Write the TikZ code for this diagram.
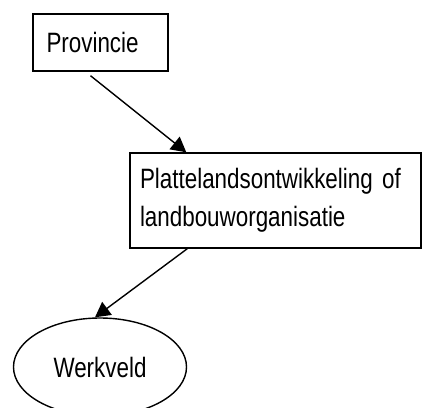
\documentclass[tikz,border=0pt]{standalone}
\usepackage{fontspec}
\setmainfont[FakeStretch=0.8]{Liberation Sans}
\usetikzlibrary{arrows.meta,shapes}

\begin{document}
\begin{tikzpicture}[x=1pt,y=-1pt,
    every node/.style={font=\fontsize{28}{38}\selectfont},
    box/.style={draw,line width=1.4pt,rectangle,align=left},
    pijl/.style={line width=1.4pt,-{Triangle[length=15pt,width=16pt]}}]
\useasboundingbox (0,0) rectangle (423,407);
\node [box,text width=108pt,inner xsep=13.5pt,minimum height=57pt] (prov) at (100.5,42.5) {Provincie};
\node [box,text width=271pt,inner xsep=10pt,minimum height=95pt] (plat) at (275.5,200.5)
    {Plattelandsontwikkeling of\\landbouworganisatie};
\node [draw,line width=1.4pt,ellipse,minimum width=173pt,minimum height=98pt] (werk) at (100,367) {Werkveld\hspace{22pt}};
\draw[pijl] ([xshift=-10pt,yshift=-4pt]prov.south) -- ([xshift=57pt]plat.north west);
\draw[pijl] ([xshift=58pt]plat.south west) -- ([xshift=-5pt]werk.north);
\end{tikzpicture}
\end{document}
